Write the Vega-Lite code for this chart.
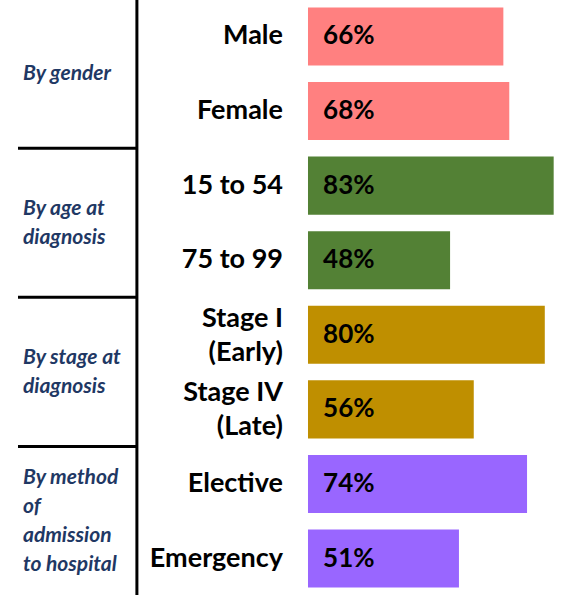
{
  "$schema": "https://vega.github.io/schema/vega-lite/v6.json",
  "width": 563,
  "height": 595,
  "padding": 0,
  "autosize": "none",
  "background": "white",
  "config": {"view": {"stroke": null}},
  "datasets": {
    "bars": [
      {"group": "gender", "category": "Male", "value": 66},
      {"group": "gender", "category": "Female", "value": 68},
      {"group": "age", "category": "15 to 54", "value": 83},
      {"group": "age", "category": "75 to 99", "value": 48},
      {"group": "stage", "category": "Stage I\n(Early)", "value": 80},
      {"group": "stage", "category": "Stage IV\n(Late)", "value": 56},
      {"group": "admission", "category": "Elective", "value": 74},
      {"group": "admission", "category": "Emergency", "value": 51}
    ],
    "groups": [
      {"group": "gender", "first": "Male", "label": "By gender", "separator": false},
      {"group": "age", "first": "15 to 54", "label": "By age at\ndiagnosis", "separator": true},
      {"group": "stage", "first": "Stage I\n(Early)", "label": "By stage at\ndiagnosis", "separator": true},
      {"group": "admission", "first": "Elective", "label": "By method\nof\nadmission\nto hospital", "separator": true}
    ]
  },
  "encoding": {
    "y": {
      "type": "nominal",
      "axis": null,
      "scale": {
        "domain": ["Male", "Female", "15 to 54", "75 to 99", "Stage I\n(Early)", "Stage IV\n(Late)", "Elective", "Emergency"],
        "paddingInner": 0.222,
        "paddingOuter": 0.1
      }
    }
  },
  "resolve": {"scale": {"y": "shared", "x": "shared"}},
  "layer": [
    {
      "data": {"name": "bars"},
      "mark": {"type": "bar"},
      "encoding": {
        "y": {"field": "category", "type": "nominal"},
        "x": {"field": "value", "type": "quantitative", "axis": null, "scale": {"domain": [-104.05, 86.15], "nice": false, "zero": false}},
        "color": {
          "field": "group",
          "type": "nominal",
          "legend": null,
          "scale": {"domain": ["gender", "age", "stage", "admission"], "range": ["#FF8080", "#538135", "#BF8F00", "#9966FF"]}
        }
      }
    },
    {
      "data": {"name": "bars"},
      "transform": [{"calculate": "datum.value + '%'", "as": "vlabel"}],
      "mark": {"type": "text", "align": "left", "baseline": "middle", "font": "Lato", "fontWeight": "bold", "fontSize": 26, "color": "#000000"},
      "encoding": {
        "y": {"field": "category", "type": "nominal"},
        "x": {"datum": 5.1, "type": "quantitative"},
        "text": {"field": "vlabel"}
      }
    },
    {
      "data": {"name": "bars"},
      "transform": [{"filter": "indexof(datum.category, '\\n') < 0"}],
      "mark": {"type": "text", "align": "right", "baseline": "middle", "font": "Lato", "fontWeight": "bold", "fontSize": 27, "color": "#000000"},
      "encoding": {
        "y": {"field": "category", "type": "nominal"},
        "x": {"datum": -8.45, "type": "quantitative"},
        "text": {"field": "category"}
      }
    },
    {
      "data": {"name": "bars"},
      "transform": [{"filter": "indexof(datum.category, '\\n') >= 0"}],
      "mark": {"type": "text", "align": "right", "baseline": "middle", "font": "Lato", "fontWeight": "bold", "fontSize": 27, "color": "#000000", "lineBreak": "\n", "lineHeight": 34, "yOffset": -16},
      "encoding": {
        "y": {"field": "category", "type": "nominal"},
        "x": {"datum": -8.45, "type": "quantitative"},
        "text": {"field": "category"}
      }
    },
    {
      "data": {"name": "groups"},
      "transform": [{"filter": "length(split(datum.label, '\\n')) == 1"}],
      "mark": {"type": "text", "align": "left", "baseline": "middle", "font": "Lato", "fontWeight": "bold", "fontStyle": "italic", "fontSize": 21, "color": "#1F3864", "yOffset": 37.5},
      "encoding": {
        "y": {"field": "first", "type": "nominal"},
        "x": {"datum": -96.3, "type": "quantitative"},
        "text": {"field": "label"}
      }
    },
    {
      "data": {"name": "groups"},
      "transform": [{"filter": "length(split(datum.label, '\\n')) == 2"}],
      "mark": {"type": "text", "align": "left", "baseline": "middle", "font": "Lato", "fontWeight": "bold", "fontStyle": "italic", "fontSize": 21, "color": "#1F3864", "lineBreak": "\n", "lineHeight": 29, "yOffset": 23},
      "encoding": {
        "y": {"field": "first", "type": "nominal"},
        "x": {"datum": -96.3, "type": "quantitative"},
        "text": {"field": "label"}
      }
    },
    {
      "data": {"name": "groups"},
      "transform": [{"filter": "length(split(datum.label, '\\n')) == 4"}],
      "mark": {"type": "text", "align": "left", "baseline": "middle", "font": "Lato", "fontWeight": "bold", "fontStyle": "italic", "fontSize": 21, "color": "#1F3864", "lineBreak": "\n", "lineHeight": 29, "yOffset": -6},
      "encoding": {
        "y": {"field": "first", "type": "nominal"},
        "x": {"datum": -96.3, "type": "quantitative"},
        "text": {"field": "label"}
      }
    },
    {
      "data": {"name": "groups"},
      "transform": [{"filter": "datum.separator"}],
      "mark": {"type": "rule", "color": "#000000", "strokeWidth": 3, "yOffset": -37.5},
      "encoding": {
        "y": {"field": "first", "type": "nominal"},
        "x": {"datum": -97.97, "type": "quantitative"},
        "x2": {"datum": -57.8}
      }
    },
    {
      "data": {"values": [{}]},
      "mark": {"type": "rule", "color": "#000000", "strokeWidth": 3},
      "encoding": {
        "x": {"datum": -57.8, "type": "quantitative"}
      }
    }
  ]
}
